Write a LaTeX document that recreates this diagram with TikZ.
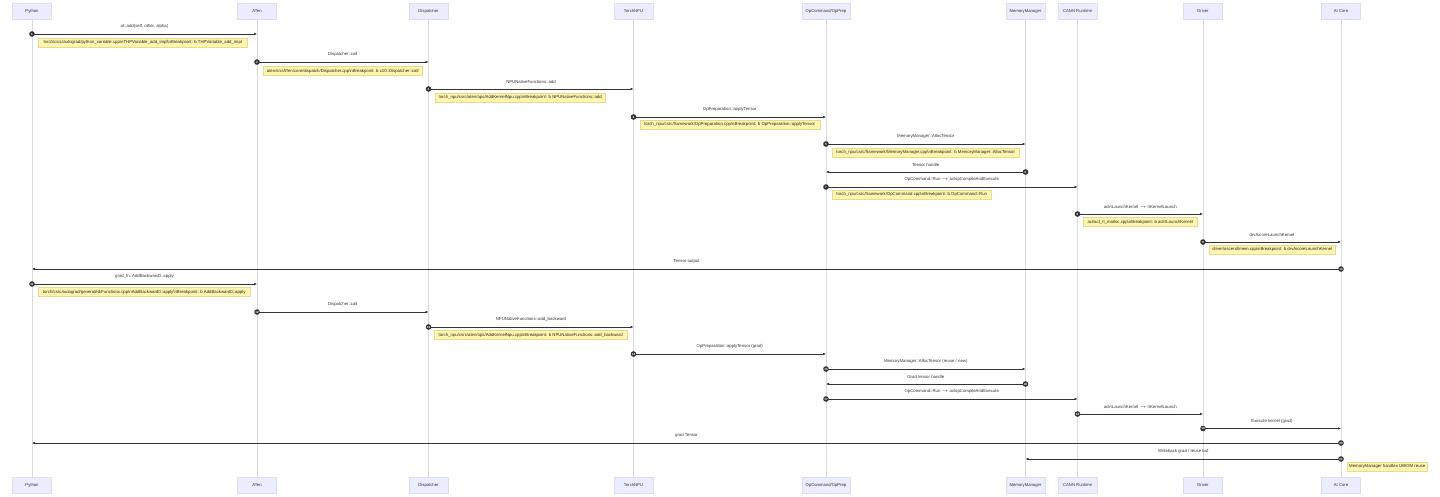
\documentclass[tikz,border=0pt]{standalone}
\usepackage{fontspec}
\setmainfont{Liberation Sans}
\usetikzlibrary{arrows.meta}
\definecolor{actfill}{HTML}{ECECFF}
\definecolor{actdraw}{HTML}{DDDDF3}
\definecolor{lifecol}{HTML}{DADAE4}
\definecolor{notefill}{HTML}{FFF5AD}
\definecolor{notedraw}{HTML}{E8DA8E}
\definecolor{ink}{HTML}{333333}
\newcommand\bsn{\textbackslash n}
\tikzset{
  actor/.style={draw=actdraw, fill=actfill, minimum width=39pt, minimum height=16pt, inner sep=0pt,
    font=\fontsize{4.2}{5}\selectfont, text=ink, line width=0.4pt},
  lifeline/.style={draw=lifecol, line width=0.6pt},
  msg/.style={draw=ink, line width=0.55pt, -{Latex[length=3pt,width=2.6pt]}},
  msglabel/.style={font=\fontsize{4.3}{5}\selectfont, text=ink, inner sep=0pt},
  numdot/.style={circle, fill=ink, inner sep=0pt, minimum size=5.6pt, text=white,
    font=\fontsize{3}{3}\selectfont\bfseries},
  notebox/.style={draw=notedraw, fill=notefill, minimum height=9pt, inner sep=1pt,
    font=\fontsize{4.3}{5}\selectfont, text=black!85, anchor=west, line width=0.4pt},
}
% #1 number, #2 from actor, #3 to actor, #4 y, #5 label
\newcommand\seqmsg[5]{%
  \coordinate (s#1) at (#2T |- 0,#4);
  \coordinate (e#1) at (#3T |- 0,#4);
  \draw[msg] (s#1) -- (e#1) node[msglabel, midway, above=5pt] (l#1) {#5};
  \node[numdot] (n#1) at (s#1) {#1};
}
\begin{document}
\begin{tikzpicture}[x=1pt, y=-1pt]
\useasboundingbox[fill=white] (0,0) rectangle (1440,496);

% actors
\node[actor] (pyT) at (32,11) {Python};
\node[actor] (pyB) at (32,485) {Python};
\node[actor] (atT) at (257,11) {ATen};
\node[actor] (atB) at (257,485) {ATen};
\node[actor] (diT) at (428.5,11) {Dispatcher};
\node[actor] (diB) at (428.5,485) {Dispatcher};
\node[actor] (tnT) at (633.5,11) {TorchNPU};
\node[actor] (tnB) at (633.5,485) {TorchNPU};
\node[actor, minimum width=48pt] (ocT) at (826,11) {OpCommand/OpPrep};
\node[actor, minimum width=48pt] (ocB) at (826,485) {OpCommand/OpPrep};
\node[actor] (mmT) at (1025.5,11) {MemoryManager};
\node[actor] (mmB) at (1025.5,485) {MemoryManager};
\node[actor] (caT) at (1077.5,11) {CANN Runtime};
\node[actor] (caB) at (1077.5,485) {CANN Runtime};
\node[actor] (drT) at (1203,11) {Driver};
\node[actor] (drB) at (1203,485) {Driver};
\node[actor] (aiT) at (1341,11) {AI Core};
\node[actor] (aiB) at (1341,485) {AI Core};

\foreach \a in {py,at,di,tn,oc,mm,ca,dr,ai}
  \draw[lifeline] (\a T.south) -- (\a B.north);

% forward pass
\seqmsg{1}{py}{at}{34}{at::add(self, other, alpha)}
\node[notebox, minimum width=209pt] (nt1) at (38,42.5) {torch/csrc/autograd/python\_variable.cpp\bsn THPVariable\_add\_impl\bsn Breakpoint: b THPVariable\_add\_impl};
\seqmsg{2}{at}{di}{62}{Dispatcher::call}
\node[notebox, minimum width=159pt] (nt2) at (263,71) {aten/src/ATen/core/dispatch/Dispatcher.cpp\bsn Breakpoint: b c10::Dispatcher::call};
\seqmsg{3}{di}{tn}{89}{NPUNativeFunctions::add}
\node[notebox, minimum width=170pt] (nt3) at (435,97.5) {torch\_npu/csrc/aten/ops/AddKernelNpu.cpp\bsn Breakpoint: b NPUNativeFunctions::add};
\seqmsg{4}{tn}{oc}{117}{OpPreparation::applyTensor}
\node[notebox, minimum width=180pt] (nt4) at (639.5,124.5) {torch\_npu/csrc/framework/OpPreparation.cpp\bsn Breakpoint: b OpPreparation::applyTensor};
\seqmsg{5}{oc}{mm}{144}{MemoryManager::AllocTensor}
\node[notebox, minimum width=187pt] (nt5) at (832,152.5) {torch\_npu/csrc/framework/MemoryManager.cpp\bsn Breakpoint: b MemoryManager::AllocTensor};
\seqmsg{6}{mm}{oc}{172}{Tensor handle}
\seqmsg{7}{oc}{ca}{187}{OpCommand::Run \ensuremath{\rightarrow} aclopCompileAndExecute}
\node[notebox, minimum width=159pt] (nt7) at (832,194.5) {torch\_npu/csrc/framework/OpCommand.cpp\bsn Breakpoint: b OpCommand::Run};
\seqmsg{8}{ca}{dr}{214}{aclrtLaunchKernel \ensuremath{\rightarrow} rtKernelLaunch}
\node[notebox, minimum width=114pt] (nt8) at (1083,222) {acl/acl\_rt\_malloc.cpp\bsn Breakpoint: b aclrtLaunchKernel};
\seqmsg{9}{dr}{ai}{242}{drvAicoreLaunchKernel}
\node[notebox, minimum width=126pt] (nt9) at (1209,249.5) {driver/ascend/mem.cpp\bsn Breakpoint: b drvAicoreLaunchKernel};
\seqmsg{10}{ai}{py}{269}{Tensor output}

% backward pass
\seqmsg{11}{py}{at}{284}{grad\_fn::AddBackward0::apply}
\node[notebox, minimum width=212pt] (nt11) at (38,292) {torch/csrc/autograd/generated/Functions.cpp\bsn AddBackward0::apply\bsn Breakpoint: b AddBackward0::apply};
\seqmsg{12}{at}{di}{312}{Dispatcher::call}
\seqmsg{13}{di}{tn}{327}{NPUNativeFunctions::add\_backward}
\node[notebox, minimum width=193pt] (nt13) at (434,335) {torch\_npu/csrc/aten/ops/AddKernelNpu.cpp\bsn Breakpoint: b NPUNativeFunctions::add\_backward};
\seqmsg{14}{tn}{oc}{354}{OpPreparation::applyTensor (grad)}
\seqmsg{15}{oc}{mm}{369}{MemoryManager::AllocTensor (reuse / new)}
\seqmsg{16}{mm}{oc}{384}{Grad tensor handle}
\seqmsg{17}{oc}{ca}{399}{OpCommand::Run \ensuremath{\rightarrow} aclopCompileAndExecute}
\seqmsg{18}{ca}{dr}{414}{aclrtLaunchKernel \ensuremath{\rightarrow} rtKernelLaunch}
\seqmsg{19}{dr}{ai}{428.5}{Execute kernel (grad)}
\seqmsg{20}{ai}{py}{443}{grad Tensor}
\seqmsg{21}{ai}{mm}{459}{Writeback grad / reuse buf}
\node[notebox, minimum width=80pt] (nt21) at (1347,466.5) {MemoryManager handles UB/GM reuse};
\end{tikzpicture}
\end{document}
